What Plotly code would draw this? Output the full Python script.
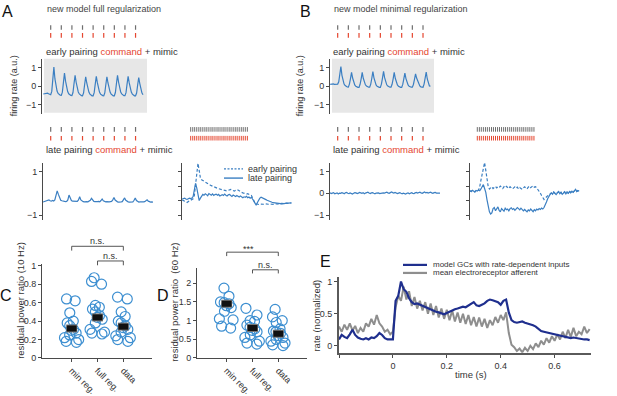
import plotly.graph_objects as go

W, H = 617, 396

# ------------------------------------------------------------------ data
# command (pairing) times, s  (10 Hz)
CMD_TIMES = [0.0, 0.1, 0.2, 0.3, 0.4, 0.5, 0.6, 0.7, 0.8]
# dense pairing times, s
DENSE_TIMES = [0.000, 0.017, 0.033, 0.050, 0.067, 0.083, 0.100, 0.117, 0.133, 0.150,
               0.167, 0.183, 0.200, 0.217, 0.233, 0.250, 0.267, 0.283, 0.300, 0.317,
               0.333, 0.350, 0.367, 0.383, 0.400, 0.417, 0.433, 0.450, 0.467]

T0_TOP = -0.07   # first sample time of panels A/B traces (step 0.01 s)
T0_BR_A = -0.07
T0_BR_B = -0.06
T0_E = -0.20
DT = 0.01

A_EARLY = [-0.42, -0.40, -0.37, -0.35, -0.37, -0.41, -0.44,
           -0.46, -0.28, 0.35, 1.05, 0.40, -0.02, -0.26, -0.39, -0.46, -0.49,
           -0.50, -0.32, 0.20, 0.72, 0.28, -0.08, -0.29, -0.41, -0.47, -0.50,
           -0.51, -0.34, 0.15, 0.60, 0.22, -0.11, -0.31, -0.42, -0.48, -0.51,
           -0.52, -0.36, 0.10, 0.52, 0.18, -0.13, -0.32, -0.43, -0.49, -0.52,
           -0.52, -0.35, 0.12, 0.55, 0.20, -0.12, -0.32, -0.43, -0.49, -0.51,
           -0.52, -0.36, 0.10, 0.52, 0.18, -0.13, -0.32, -0.43, -0.49, -0.52,
           -0.52, -0.34, 0.15, 0.60, 0.22, -0.11, -0.31, -0.42, -0.48, -0.51,
           -0.51, -0.35, 0.12, 0.55, 0.20, -0.12, -0.32, -0.43, -0.49, -0.52,
           -0.52, -0.37, 0.08, 0.48, 0.15, -0.16, -0.36, -0.46]

B_EARLY = [0.10, 0.12, 0.15, 0.13, 0.10, 0.11, 0.13,
           0.12, 0.25, 0.60, 1.08, 0.60, 0.28, 0.12, 0.04, -0.01, -0.04,
           -0.05, 0.12, 0.42, 0.76, 0.45, 0.20, 0.07, 0.00, -0.04, -0.06,
           -0.06, 0.11, 0.41, 0.76, 0.44, 0.21, 0.08, 0.01, -0.03, -0.05,
           -0.05, 0.12, 0.44, 0.80, 0.46, 0.20, 0.07, 0.00, -0.04, -0.06,
           -0.06, 0.12, 0.45, 0.82, 0.47, 0.22, 0.08, 0.01, -0.03, -0.05,
           -0.05, 0.11, 0.41, 0.76, 0.44, 0.20, 0.07, 0.00, -0.04, -0.06,
           -0.06, 0.10, 0.40, 0.72, 0.42, 0.19, 0.07, 0.00, -0.04, -0.05,
           -0.05, 0.10, 0.38, 0.68, 0.45, 0.30, 0.12, 0.02, -0.03, -0.05,
           -0.05, 0.12, 0.43, 0.78, 0.40, 0.12, 0.02, 0.00]

A_LATE = [-0.40, -0.38, -0.36, -0.37, -0.33, -0.30, -0.34,
          -0.36, -0.33, -0.35, -0.30, -0.10, 0.11,
          -0.05, -0.25, -0.32, -0.34, -0.36, -0.37, -0.38, -0.37, -0.30, -0.08,
          -0.25, -0.33, -0.36, -0.37, -0.38, -0.36, -0.37, -0.30, -0.16,
          -0.30, -0.36, -0.38, -0.39, -0.37, -0.38, -0.39, -0.37, -0.32, -0.23,
          -0.33, -0.37, -0.38, -0.39, -0.38, -0.37, -0.39, -0.33, -0.26,
          -0.34, -0.37, -0.39, -0.38, -0.40, -0.39, -0.38, -0.37, -0.30, -0.19,
          -0.31, -0.37, -0.39, -0.40, -0.38, -0.39, -0.38, -0.31, -0.21,
          -0.32, -0.38, -0.39, -0.40, -0.39, -0.38, -0.39, -0.32, -0.21,
          -0.33, -0.38, -0.40, -0.39, -0.40, -0.41, -0.39, -0.38, -0.34, -0.30,
          -0.36, -0.39, -0.40, -0.39, -0.40]

B_LATE = [0.02, -0.01, 0.01, 0.03, -0.02, 0.00, 0.02, -0.03, 0.01, 0.00,
          0.03, 0.01, -0.02, 0.02, 0.04, 0.00, -0.01, 0.02, 0.01, -0.03,
          0.00, 0.03, 0.02, -0.01, 0.01, 0.04, 0.02, 0.00, 0.03, -0.02,
          0.01, 0.02, 0.05, 0.01, -0.01, 0.02, 0.03, 0.00, -0.02, 0.01,
          0.03, 0.02, -0.01, 0.00, 0.04, 0.02, 0.01, 0.03, 0.05, 0.02,
          0.00, 0.03, 0.06, 0.03, 0.01, 0.04, 0.02, -0.01, 0.01, 0.03,
          0.00, -0.02, 0.01, -0.01, -0.03, 0.00, 0.02, -0.02, 0.01, 0.03,
          0.00, -0.01, 0.02, 0.04, 0.01, 0.03, 0.05, 0.02, 0.00, 0.03,
          0.06, 0.02, 0.04, 0.01, 0.03, 0.05, 0.02, 0.00, 0.03, 0.04,
          0.01, 0.02, 0.03, 0.01]

A_EARLY_DENSE = [-0.30, -0.32, -0.36, -0.40, -0.42, -0.38, -0.34,
                 -0.32, -0.30, -0.25, -0.10, 0.35, 1.00, 1.37, 1.05, 0.70,
                 0.62, 0.58, 0.56, 0.52, 0.48, 0.45, 0.41, 0.38, 0.35, 0.32,
                 0.30, 0.27, 0.25, 0.23, 0.21, 0.19, 0.17, 0.16, 0.14, 0.13,
                 0.12, 0.11, 0.14, 0.17, 0.18, 0.15, 0.12, 0.10, 0.14, 0.17,
                 0.15, 0.10, 0.06, 0.04, 0.02, 0.00, -0.02, -0.03, -0.02, -0.04,
                 -0.06, -0.10, -0.20, -0.35, -0.45, -0.48, -0.50,
                 -0.51, -0.49, -0.50, -0.52, -0.50, -0.48, -0.49, -0.51, -0.50, -0.49,
                 -0.48, -0.50, -0.51, -0.49, -0.47, -0.48, -0.50, -0.49, -0.48, -0.46,
                 -0.47, -0.48, -0.46, -0.45, -0.46, -0.44, -0.45, -0.44]

A_LATE_DENSE = [-0.26, -0.24, -0.22, -0.26, -0.28, -0.25, -0.22,
                -0.24, -0.22, -0.15, 0.15, 0.45, 0.25, -0.10, -0.33, -0.22,
                -0.10, -0.05, -0.09, -0.02, -0.06, -0.11, -0.01, -0.05, -0.09, -0.03,
                -0.10, -0.06, -0.04, -0.09, -0.05, -0.12, -0.08, -0.06, -0.10, -0.04,
                -0.09, -0.12, -0.07, -0.05, -0.10, -0.14, -0.08, -0.12, -0.15, -0.10,
                -0.13, -0.17, -0.12, -0.15, -0.20, -0.16, -0.18, -0.14, -0.20, -0.17,
                -0.22, -0.18, -0.25, -0.35, -0.45, -0.55, -0.42, -0.30, -0.22, -0.18,
                -0.20, -0.23, -0.26, -0.29, -0.32, -0.35, -0.37, -0.39, -0.41, -0.43,
                -0.44, -0.46, -0.47, -0.46, -0.48, -0.47, -0.46, -0.48, -0.47, -0.46,
                -0.45, -0.46, -0.44, -0.45, -0.44]

B_EARLY_DENSE = [0.12, 0.08, 0.14, 0.10, 0.06, 0.13,
                 0.10, 0.15, 0.30, 0.60, 0.90, 1.15, 1.40, 1.05, 0.55, 0.30, 0.20,
                 0.25, 0.30, 0.22, 0.28, 0.32, 0.25, 0.30, 0.26,
                 0.33, 0.28, 0.22, 0.30, 0.25, 0.32, 0.28, 0.22,
                 0.30, 0.26, 0.20, 0.25, 0.30, 0.24, 0.28, 0.20,
                 0.26, 0.22, 0.18, 0.25, 0.30, 0.24, 0.20, 0.28,
                 0.33, 0.26, 0.30, 0.35, 0.28, 0.30, 0.25, 0.18,
                 0.10, 0.00, -0.10, -0.20, -0.28, -0.22, -0.15, -0.10, -0.06, -0.03, 0.01,
                 -0.02, 0.06, 0.01, -0.04, 0.03, 0.07, -0.01, 0.05,
                 -0.03, 0.03, 0.07, -0.02, 0.06, 0.01, 0.09, 0.03,
                 0.11, 0.05, 0.13, 0.16, 0.09, 0.13, 0.11]

B_LATE_DENSE = [0.12, 0.08, 0.14, 0.10, 0.06, 0.13,
                0.10, 0.15, 0.12, 0.20, 0.30, 0.40,
                0.22, 0.04, -0.30, -0.60, -0.85, -0.95, -0.90, -0.70, -0.65,
                -0.80, -0.72, -0.62, -0.78, -0.85, -0.70, -0.74, -0.82,
                -0.68, -0.75, -0.72, -0.80, -0.70, -0.66, -0.74, -0.70,
                -0.78, -0.72, -0.65, -0.70, -0.76, -0.68, -0.72, -0.80,
                -0.74, -0.78, -0.85, -0.76, -0.80, -0.72, -0.78, -0.84,
                -0.75, -0.80, -0.72, -0.76, -0.70, -0.74, -0.68, -0.72, -0.65,
                -0.55, -0.40, -0.25, -0.12, -0.05, 0.02,
                -0.04, 0.05, 0.00, -0.06, 0.02, 0.08, -0.02, 0.04,
                -0.05, 0.02, 0.06, -0.03, 0.05, 0.00, 0.08, 0.02,
                0.10, 0.04, 0.12, 0.18, 0.08, 0.12, 0.10]

CATS = ["min reg.", "full reg.", "data"]
C_MIN = [0.64, 0.62, 0.49, 0.40, 0.38, 0.35, 0.31, 0.30, 0.27, 0.25, 0.22, 0.20, 0.18, 0.17]
C_FULL = [0.87, 0.83, 0.80, 0.57, 0.55, 0.53, 0.50, 0.46, 0.44, 0.42, 0.38, 0.31, 0.28, 0.27, 0.26]
C_DATA = [0.66, 0.64, 0.50, 0.45, 0.40, 0.38, 0.35, 0.33, 0.31, 0.28, 0.24, 0.22, 0.20, 0.18]
C_MEANS = [0.32, 0.44, 0.34]
D_MIN = [1.87, 1.65, 1.50, 1.48, 1.45, 1.40, 1.35, 1.25, 1.05, 1.02, 0.85, 0.80]
D_FULL = [1.33, 1.15, 1.00, 0.98, 0.88, 0.82, 0.78, 0.74, 0.70, 0.62, 0.55, 0.45, 0.40, 0.37]
D_DATA = [1.30, 1.10, 1.00, 0.95, 0.78, 0.72, 0.70, 0.66, 0.60, 0.55, 0.50, 0.45, 0.40, 0.35, 0.33]
D_MEANS = [1.45, 0.80, 0.65]

E_MODEL = [0.10, 0.17, 0.14, 0.12, 0.18, 0.25, 0.17, 0.13, 0.11, 0.10,
           0.12, 0.10, 0.13, 0.12, 0.15, 0.20, 0.17, 0.12, 0.10, 0.10,
           0.10, 0.70, 0.78, 1.00, 0.88, 0.84, 0.74, 0.68, 0.65, 0.66,
           0.64, 0.62, 0.61, 0.59, 0.57, 0.55, 0.53, 0.52, 0.50, 0.49,
           0.51, 0.53, 0.56, 0.57, 0.58, 0.60, 0.61, 0.60, 0.63, 0.66,
           0.68, 0.63, 0.62, 0.64, 0.66, 0.70, 0.72, 0.71, 0.70, 0.68,
           0.64, 0.70, 0.72, 0.52, 0.40, 0.37, 0.36, 0.37, 0.38, 0.36,
           0.35, 0.34, 0.32, 0.30, 0.27, 0.23, 0.22, 0.21, 0.20, 0.19,
           0.18, 0.17, 0.16, 0.15, 0.14, 0.13, 0.12, 0.13, 0.12, 0.11,
           0.11, 0.10, 0.10, 0.09]
E_AFF = [0.30, 0.22, 0.33, 0.25, 0.35, 0.24, 0.31, 0.20, 0.28, 0.22,
         0.35, 0.30, 0.42, 0.33, 0.48, 0.35, 0.30, 0.22, 0.25, 0.18,
         0.22, 0.60, 0.78, 0.70, 0.92, 0.72, 0.85, 0.62, 0.76, 0.58,
         0.70, 0.55, 0.68, 0.50, 0.66, 0.48, 0.62, 0.44, 0.58, 0.42,
         0.56, 0.40, 0.55, 0.38, 0.52, 0.36, 0.50, 0.34, 0.48, 0.32,
         0.45, 0.30, 0.44, 0.30, 0.42, 0.28, 0.40, 0.32, 0.45, 0.36,
         0.48, 0.40, 0.52, 0.20, 0.02, -0.02, -0.08, -0.04, -0.10, -0.03,
         -0.08, 0.00, -0.05, 0.04, -0.02, 0.08, 0.02, 0.12, 0.05, 0.15,
         0.08, 0.18, 0.10, 0.22, 0.12, 0.25, 0.14, 0.28, 0.15, 0.22,
         0.18, 0.30, 0.20, 0.26]

# ------------------------------------------------------------------ style
FONT = "Liberation Sans, Arial, Helvetica, sans-serif"
TXT = "#333333"
AX = "#4a4a4a"
BLUE = "#3b7fc2"
CBLUE = "#3d8fd1"
NAVY = "#1f2f8e"
GTR = "#8e8e8e"
RED = "#e5462f"
TGRAY = "#6e6e6e"


def dx(a, b):
    return [a / W, b / W]


def dy(top, bot):
    return [1 - bot / H, 1 - top / H]


def px(x):
    return x / W


def py(y):
    return 1 - y / H


def tgrid(t0, n):
    return [round(t0 + DT * i, 4) for i in range(n)]


fig = go.Figure()


def line(y, t0, xa, ya, color=BLUE, width=1.2, dash="solid"):
    fig.add_trace(go.Scatter(x=tgrid(t0, len(y)), y=y, mode="lines",
                             line=dict(color=color, width=width, dash=dash),
                             xaxis=xa, yaxis=ya, hoverinfo="skip"))


def raster(times, xa, ya, width=1.2):
    for row, col in ((1, TGRAY), (0, RED)):
        fig.add_trace(go.Scatter(x=times, y=[row] * len(times), mode="markers",
                                 marker=dict(symbol="line-ns", size=3.3, color=col,
                                             line=dict(color=col, width=width)),
                                 xaxis=xa, yaxis=ya, hoverinfo="skip"))


# panels A/B traces
line(A_EARLY, T0_TOP, "x", "y")
line(B_EARLY, T0_TOP, "x2", "y2")
line(A_LATE, T0_TOP, "x3", "y3")
line(B_LATE, T0_TOP, "x4", "y4")
line(A_EARLY_DENSE, T0_BR_A, "x5", "y5", dash="3px,2px")
line(A_LATE_DENSE, T0_BR_A, "x5", "y5")
line(B_EARLY_DENSE, T0_BR_B, "x6", "y6", dash="3px,2px")
line(B_LATE_DENSE, T0_BR_B, "x6", "y6")

# rasters
raster(CMD_TIMES, "x", "y7")
raster(CMD_TIMES, "x", "y8")
raster(DENSE_TIMES, "x5", "y9", width=1.0)
raster(CMD_TIMES, "x2", "y10")
raster(CMD_TIMES, "x2", "y11")
raster(DENSE_TIMES, "x6", "y12", width=1.0)


# C / D swarms
def swarm(groups, means, xa, ya):
    for i, vals in enumerate(groups):
        fig.add_trace(go.Box(x=[i] * len(vals), y=vals, boxpoints="all", jitter=1.0,
                             pointpos=0, width=0.7, fillcolor="rgba(0,0,0,0)",
                             line=dict(color="rgba(0,0,0,0)", width=0),
                             marker=dict(symbol="circle-open", size=10, color=CBLUE,
                                         line=dict(color=CBLUE, width=1.2)),
                             xaxis=xa, yaxis=ya, hoverinfo="skip"))
    xs = list(range(len(means)))
    fig.add_trace(go.Scatter(x=xs, y=means, mode="markers",
                             marker=dict(symbol="line-ew", size=7.8, color="#777",
                                         line=dict(color="#777", width=8)),
                             xaxis=xa, yaxis=ya, hoverinfo="skip"))
    fig.add_trace(go.Scatter(x=xs, y=means, mode="markers",
                             marker=dict(symbol="line-ew", size=7, color="#111",
                                         line=dict(color="#111", width=6)),
                             xaxis=xa, yaxis=ya, hoverinfo="skip"))


swarm([C_MIN, C_FULL, C_DATA], C_MEANS, "x7", "y13")
swarm([D_MIN, D_FULL, D_DATA], D_MEANS, "x8", "y14")

# E
line(E_AFF, T0_E, "x9", "y15", color=GTR, width=2)
line(E_MODEL, T0_E, "x9", "y15", color=NAVY, width=2.2)

# ------------------------------------------------------------------ axes
hid = dict(visible=False, showgrid=False, zeroline=False)


def yax(**kw):
    d = dict(showline=True, linecolor=AX, linewidth=1, ticks="outside", ticklen=3,
             tickcolor=AX, tickwidth=1, showgrid=False, zeroline=False,
             tickfont=dict(size=9, color=TXT))
    d.update(kw)
    return d


third = 1 / 3
lay = dict(
    width=W, height=H, margin=dict(l=0, r=0, t=0, b=0),
    paper_bgcolor="white", plot_bgcolor="rgba(0,0,0,0)", showlegend=False,
    font=dict(family=FONT, size=9, color=TXT),
    xaxis=dict(hid, domain=dx(42, 147), range=[-0.082, 0.908], anchor="y"),
    yaxis=yax(domain=dy(57, 113), range=[-1.5, 1.5], tickvals=[-1, 0, 1], anchor="x"),
    xaxis2=dict(hid, domain=dx(330, 434), range=[-0.072, 0.903], anchor="y2"),
    yaxis2=yax(domain=dy(57, 113), range=[-1.5, 1.5], tickvals=[-1, 0, 1], anchor="x2"),
    xaxis3=dict(hid, domain=dx(43, 153), range=[-0.07, 0.86], anchor="y3"),
    yaxis3=yax(domain=dy(163, 221), range=[-1.2, 1.4], tickvals=[-1, 1], anchor="x3"),
    xaxis4=dict(hid, domain=dx(330, 440), range=[-0.07, 0.86], anchor="y4"),
    yaxis4=yax(domain=dy(163, 221), range=[-1.2, 1.4], tickvals=[-1, 0, 1], anchor="x4"),
    xaxis5=dict(hid, domain=dx(182, 300), range=[-0.0717, 0.901], anchor="y5"),
    yaxis5=yax(domain=dy(163, 221), range=[-1.2, 1.4], tickvals=[-1, -third, third, 1],
               showticklabels=False, anchor="x5"),
    xaxis6=dict(hid, domain=dx(470, 590), range=[-0.0602, 0.929], anchor="y6"),
    yaxis6=yax(domain=dy(163, 221), range=[-1.2, 1.4], tickvals=[-1, -third, third, 1],
               showticklabels=False, anchor="x6"),
    yaxis7=dict(hid, domain=dy(21, 37), range=[-0.5, 1.5], anchor="x"),
    yaxis8=dict(hid, domain=dy(124.5, 142.5), range=[-0.5, 1.5], anchor="x"),
    yaxis9=dict(hid, domain=dy(124.5, 142.5), range=[-0.5, 1.5], anchor="x5"),
    yaxis10=dict(hid, domain=dy(21, 37), range=[-0.5, 1.5], anchor="x2"),
    yaxis11=dict(hid, domain=dy(124.5, 142.5), range=[-0.5, 1.5], anchor="x2"),
    yaxis12=dict(hid, domain=dy(124.5, 142.5), range=[-0.5, 1.5], anchor="x6"),
    xaxis7=yax(domain=dx(42, 152), range=[-1.15, 3.11], tickvals=[0, 1, 2],
               ticktext=CATS, tickangle=45, anchor="y13"),
    yaxis13=yax(domain=dy(266.3, 362.3), range=[0, 1.02],
                tickvals=[0, 0.2, 0.4, 0.6, 0.8, 1], anchor="x7"),
    xaxis8=yax(domain=dx(197, 306.7), range=[-1.15, 3.10], tickvals=[0, 1, 2],
               ticktext=CATS, tickangle=45, anchor="y14"),
    yaxis14=yax(domain=dy(270, 362.3), range=[0, 2.42],
                tickvals=[0, 0.5, 1, 1.5, 2], anchor="x8"),
    xaxis9=yax(domain=dx(339, 591), range=[-0.2, 0.735],
               tickvals=[-0.2, 0, 0.2, 0.4, 0.6], ticktext=["", "0", "0.2", "0.4", "0.6"],
               linewidth=2, linecolor="#5a5a5a", anchor="y15"),
    yaxis15=yax(domain=dy(280, 357), range=[-0.107, 1.065], tickvals=[0, 0.5, 1],
                linewidth=2, linecolor="#5a5a5a", anchor="x9"),
)
fig.update_layout(**lay)

# ------------------------------------------------------------------ shapes
shapes = []
for x0, x1 in ((44, 147), (332, 434)):
    shapes.append(dict(type="rect", xref="paper", yref="paper", x0=px(x0), x1=px(x1),
                       y0=py(112), y1=py(57), fillcolor="#e7e7e7", line=dict(width=0),
                       layer="below"))


def bracket(xa, a, b, ytop, ybot):
    shapes.append(dict(type="path", xref=xa, yref="paper",
                       path=f"M {a},{py(ybot)} L {a},{py(ytop)} L {b},{py(ytop)} L {b},{py(ybot)}",
                       line=dict(color="#555", width=1)))


bracket("x7", 0, 2, 248.3, 252.7)
bracket("x7", 1, 2, 263.3, 267.7)
bracket("x8", 0, 2, 254.3, 258.3)
bracket("x8", 1, 2, 272.3, 276.0)

# legends (manual)
shapes.append(dict(type="line", xref="paper", yref="paper", x0=px(224), x1=px(243),
                   y0=py(169.3), y1=py(169.3), line=dict(color=BLUE, width=1.2, dash="2px,1.5px")))
shapes.append(dict(type="line", xref="paper", yref="paper", x0=px(224), x1=px(243),
                   y0=py(178.7), y1=py(178.7), line=dict(color=BLUE, width=1.4)))
shapes.append(dict(type="line", xref="paper", yref="paper", x0=px(403), x1=px(427),
                   y0=py(267.3), y1=py(267.3), line=dict(color=NAVY, width=2.2)))
shapes.append(dict(type="line", xref="paper", yref="paper", x0=px(403), x1=px(427),
                   y0=py(275.5), y1=py(275.5), line=dict(color=GTR, width=2.2)))
fig.update_layout(shapes=shapes)

# ------------------------------------------------------------------ text
anns = []


def txt(text, x, y, size=9, color=TXT, xanchor="left", angle=0, xref="paper"):
    anns.append(dict(text=text, x=(px(x) if xref == "paper" else x), y=py(y),
                     xref=xref, yref="paper", xanchor=xanchor, yanchor="middle",
                     showarrow=False, textangle=angle,
                     font=dict(size=size, color=color, family=FONT)))


cmd = f'<span style="color:{RED}">command</span>'
txt("A", 7, 9, size=16, color="#111", xanchor="center")
txt("B", 305, 9, size=16, color="#111", xanchor="center")
txt("C", 6, 299, size=16, color="#111", xanchor="center")
txt("D", 163, 299, size=16, color="#111", xanchor="center")
txt("E", 325, 264, size=16, color="#111", xanchor="center")

txt("new model full regularization", 45, 6, size=9, color="#444")
txt("new model minimal regularization", 332, 6, size=9, color="#444")
txt(f"early pairing {cmd} + mimic", 44, 49, size=9.5)
txt(f"early pairing {cmd} + mimic", 331, 49, size=9.5)
txt(f"late pairing {cmd} + mimic", 44, 150, size=9.5)
txt(f"late pairing {cmd} + mimic", 331, 150, size=9.5)
txt("firing rate (a.u.)", 14, 85, size=9, xanchor="center", angle=-90)
txt("firing rate (a.u.)", 300, 85, size=9, xanchor="center", angle=-90)
txt("early pairing", 246, 169.3, size=9)
txt("late pairing", 246, 178.7, size=9)

txt("n.s.", 1, 243.3, size=9, xanchor="center", xref="x7")
txt("n.s.", 1.5, 258.3, size=9, xanchor="center", xref="x7")
txt("***", 0.85, 250.7, size=9, xanchor="center", xref="x8")
txt("n.s.", 1.5, 267.7, size=9, xanchor="center", xref="x8")
txt("residual power ratio (10 Hz)", 21, 304, size=9.5, xanchor="center", angle=-90)
txt("residual power ratio  (60 Hz)", 175, 306, size=9.5, xanchor="center", angle=-90)

txt("model GCs with rate-dependent inputs", 431, 266.5, size=8)
txt("mean electroreceptor afferent", 431, 275.5, size=8)
txt("rate (normalized)", 317, 319, size=9.5, xanchor="center", angle=-90)
txt("time (s)", 471, 379, size=9.5, xanchor="center")
fig.update_layout(annotations=anns)

fig.write_html("out.html", config={"displayModeBar": False},
               post_script="document.body.style.margin='0';document.body.style.overflow='hidden';")
